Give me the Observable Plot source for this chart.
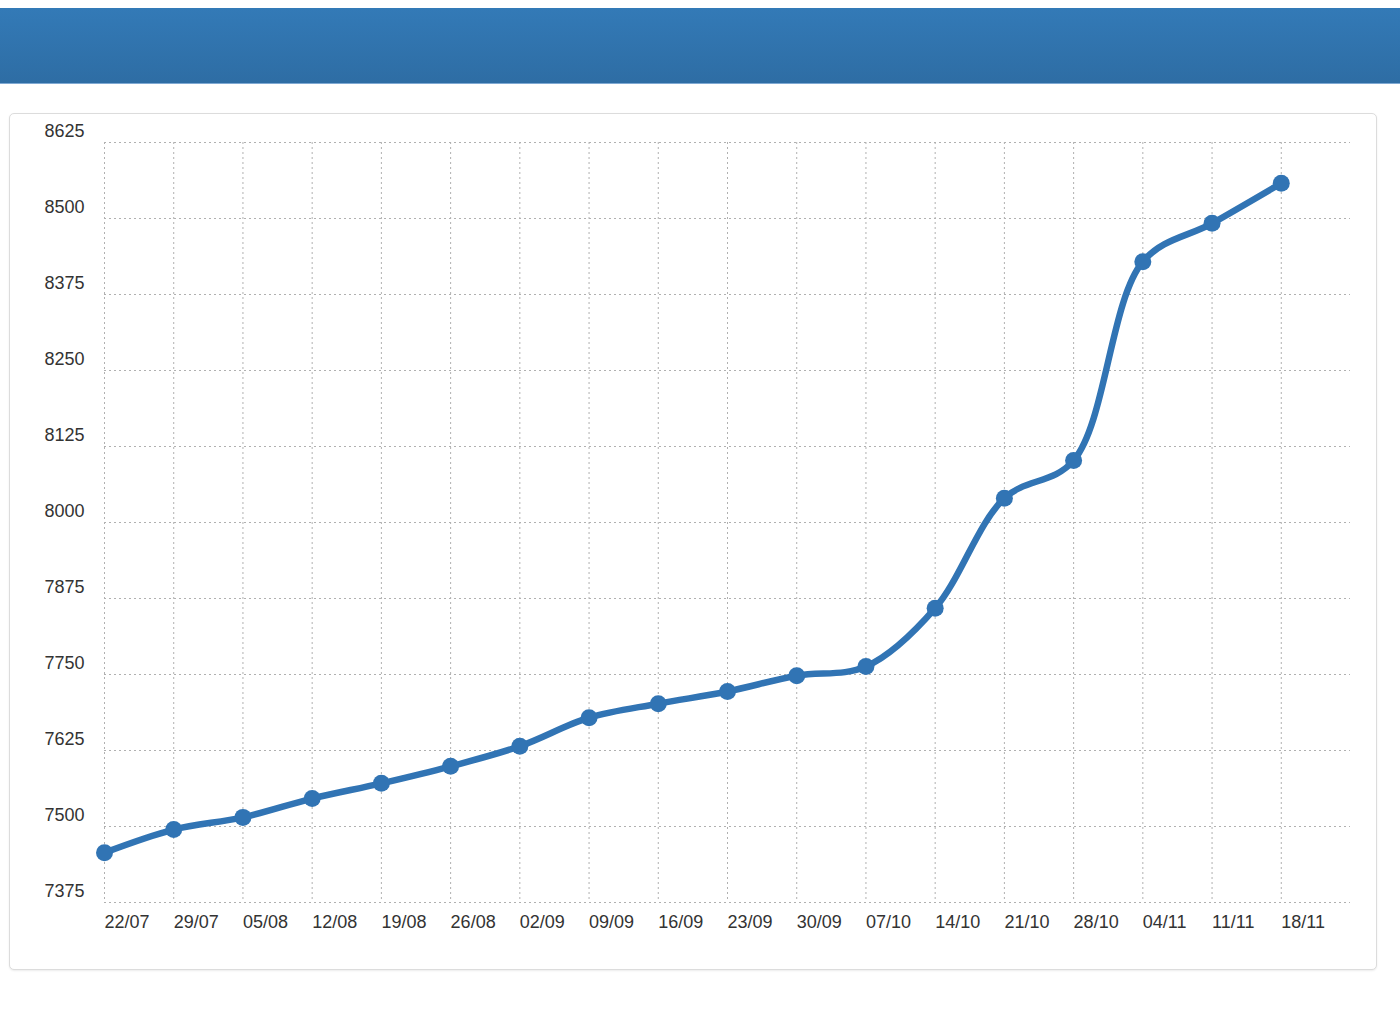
<!DOCTYPE html>
<html>
<head>
<meta charset="utf-8">
<script src="https://cdn.jsdelivr.net/npm/d3@7"></script>
<script src="https://cdn.jsdelivr.net/npm/@observablehq/plot@0.6"></script>
<style>
  html, body { margin: 0; padding: 0; background: #fff; width: 1400px; height: 1035px; overflow: hidden; font-family: "Liberation Sans", Arial, sans-serif; }
  #header { position: absolute; left: 0; top: 8px; width: 1400px; height: 75px;
    background: linear-gradient(to bottom, #337ab7 0%, #2e6da4 100%); border-bottom: 1px solid #7fa9d3; }
  #panel { position: absolute; left: 9px; top: 113px; width: 1366px; height: 855px;
    border: 1px solid #dcdcdc; border-radius: 5px; box-shadow: 0 1px 2px rgba(0,0,0,0.08); background: #fff; }
  #chart { position: absolute; left: 0; top: 0; }
</style>
</head>
<body>
<div id="header"></div>
<div id="panel"></div>
<div id="chart"></div>
<script>
const dateLabels = ["22/07","29/07","05/08","12/08","19/08","26/08","02/09","09/09","16/09","23/09","30/09","07/10","14/10","21/10","28/10","04/11","11/11","18/11"];
const values = [7457, 7495, 7515, 7546, 7571, 7599, 7632, 7679, 7702, 7722, 7748, 7763, 7859, 8040, 8102, 8429, 8492, 8558];
const yTicks = [7375, 7500, 7625, 7750, 7875, 8000, 8125, 8250, 8375, 8500, 8625];
const year = 2013;

const parse = s => { const [d, m] = s.split("/").map(Number); return new Date(Date.UTC(year, m - 1, d)); };
const dates = dateLabels.map(parse);
const data = dates.map((d, i) => ({date: d, value: values[i]}));
const xEnd = d3.utcDay.offset(dates[dates.length - 1], 7);

const gridStyle = {stroke: "#b0b0b0", strokeOpacity: 1, strokeWidth: 1, strokeDasharray: "2,3"};

const plot = Plot.plot({
  width: 1400,
  height: 1000,
  marginLeft: 104,
  marginRight: 50,
  marginTop: 142,
  marginBottom: 98,
  style: {fontFamily: "'Liberation Sans', Arial, sans-serif", fontSize: "18px", color: "#333", background: "transparent"},
  x: {type: "utc", domain: [dates[0], xEnd], label: null},
  y: {domain: [7375, 8625], label: null},
  marks: [
    Plot.gridY(yTicks, gridStyle),
    Plot.gridX(dates, gridStyle),
    Plot.axisY(yTicks, {tickSize: 0, tickPadding: 20, dy: -11, fill: "#333", fontSize: 18, tickFormat: d3.format("d"), label: null}),
    Plot.axisX(dates, {tickSize: 0, tickPadding: 13, textAnchor: "start", dx: 0, tickFormat: d => dateLabels[dates.findIndex(e => +e === +d)], fill: "#333", fontSize: 18, label: null}),
    Plot.line(data, {x: "date", y: "value", stroke: "#3174b4", strokeWidth: 6.5, curve: "catmull-rom"}),
    Plot.dot(data, {x: "date", y: "value", r: 8.5, fill: "#3174b4", stroke: "none"})
  ]
});
document.getElementById("chart").appendChild(plot);
</script>
</body>
</html>
